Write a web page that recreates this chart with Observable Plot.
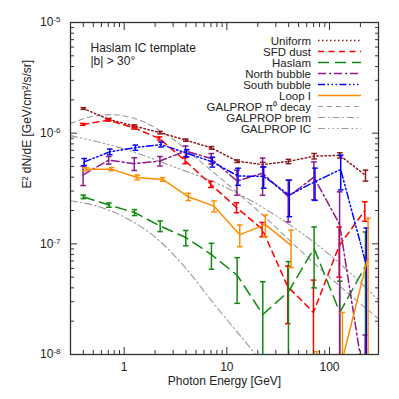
<!DOCTYPE html>
<html><head><meta charset="utf-8">
<script src="https://cdn.jsdelivr.net/npm/d3@7"></script>
<script src="https://cdn.jsdelivr.net/npm/@observablehq/plot@0.6"></script>
<style>body{margin:0;background:#fff}</style>
</head><body><div id="chart"></div>
<script>
// ---- data ----
const energy = [0.4, 0.71, 1.26, 2.24, 3.98, 7.08, 12.6, 22.4, 39.8, 70.8, 126, 224];

const uniformVal = [1.67e-6, 1.33e-6, 1.16e-6, 1.01e-6, 8.65e-7, 7.36e-7, 5.58e-7, 5.2e-7, 5.55e-7, 6.2e-7, 6.3e-7, 4.16e-7];
const uniformErr = [3e-8, 3e-8, 3e-8, 2.5e-8, 2e-8, 2e-8, 1.5e-8, 2.5e-8, 2.5e-8, 3.5e-8, 3.5e-8, 4.7e-8];

const sfdVal = [1.2e-6, 1.31e-6, 1.12e-6, 8.95e-7, 5.65e-7, 3.45e-7, 2.13e-7, 1.36e-7, 4.1e-8, 2.4e-8, 9.6e-8, 2.0e-7];
const sfdErr = [2.5e-8, 2.5e-8, 3e-8, 3e-8, 3.5e-8, 2.2e-8, 2.2e-8, 2e-8, 2.2e-8, 2.3e-8, 4.6e-8, 4e-8];

const haslamVal = [2.66e-7, 2.24e-7, 1.92e-7, 1.45e-7, 1.14e-7, 8.0e-8, 5.2e-8, 2.3e-8, 3.7e-8, 9.1e-8, 2.4e-8, 6.3e-8];
const haslamErr = [1e-8, 1e-8, 1.2e-8, 1.6e-8, 1.8e-8, 2.1e-8, 2.3e-8, 2.25e-8, 3.2e-8, 5.1e-8, 2.2e-8, 6.5e-8];

const northVal = [4.2e-7, 5.7e-7, 5.3e-7, 5.6e-7, 6.9e-7, 5.9e-7, 3.69e-7, 4.35e-7, 2.67e-7, 4.0e-7, 1.5e-7, 5e-9];
const northErr = [8.4e-8, 4.5e-8, 7e-8, 5.5e-8, 7.5e-8, 6.4e-8, 9.4e-8, 1.6e-7, 1.09e-7, 1.5e-7, 1.45e-7, 1e-8];

const southVal = [5.5e-7, 6.78e-7, 7.4e-7, 7.9e-7, 6.6e-7, 5.5e-7, 4.1e-7, 4.07e-7, 2.76e-7, 3.65e-7, 4.7e-7, 6.4e-8];
const southErr = [4e-8, 4e-8, 4e-8, 4e-8, 5e-8, 5.6e-8, 7.2e-8, 8.9e-8, 1e-7, 1.18e-7, 1.63e-7, 7.5e-8];

const loopVal = [4.73e-7, 4.73e-7, 3.98e-7, 3.82e-7, 2.66e-7, 2.19e-7, 1.21e-7, 1.49e-7, 9.7e-8, -5e-9, 9e-9, 7.6e-8];
const loopErr = [1.5e-8, 1.5e-8, 2e-8, 1.5e-8, 2e-8, 2.5e-8, 2.7e-8, 3.3e-8, 3.6e-8, 1.56e-8, 1.5e-8, 9.4e-8];

// GALPROP model curves
const pi0E = [0.3, 0.5, 0.75, 1, 1.5, 2, 3, 5, 10, 20, 50, 100, 300];
const pi0Val = [1.22e-6, 1.42e-6, 1.47e-6, 1.43e-6, 1.28e-6, 1.12e-6, 8.8e-7, 6.0e-7, 3.5e-7, 2.0e-7, 9e-8, 5e-8, 2.1e-8];
const bremE = [0.3, 0.5, 1, 2, 4, 7, 19, 40];
const bremVal = [2.45e-7, 2.24e-7, 1.75e-7, 1.15e-7, 6e-8, 3.1e-8, 1e-8, 4e-9];
const icE = [0.3, 1, 3, 10, 30, 100, 300];
const icVal = [9.5e-7, 7.2e-7, 5e-7, 3.2e-7, 1.8e-7, 8e-8, 3.1e-8];

const xMajor = [1, 10, 100];
const xMinor = [0.3,0.4,0.5,0.6,0.7,0.8,0.9,2,3,4,5,6,7,8,9,20,30,40,50,60,70,80,90,200,300];
const yMajor = [1e-8, 1e-7, 1e-6, 1e-5];
const yMinor = [];
for (const d of [1e-8, 1e-7, 1e-6]) for (let k = 2; k <= 9; k++) yMinor.push(k * d);

const seriesNames = ["Uniform", "SFD dust", "Haslam", "North bubble", "South bubble", "Loop I"];
const seriesVals = [uniformVal, sfdVal, haslamVal, northVal, southVal, loopVal];
const seriesErrs = [uniformErr, sfdErr, haslamErr, northErr, southErr, loopErr];
const seriesShift = [1, 0.985, 1, 0.995, 1.02, 1.06];

// ---- styles ----
const colors = ["#8b1a1a", "#ff0000", "#118811", "#8b1a8b", "#0000ff", "#ff8c00"];
const dashes = ["1.5,2.5", "6,4.5", "11,6", "8,3,2,3", "7,2.5,1.5,2.5,1.5,2.5,1.5,2.5", null];
const grayColor = "#999999";
const grayDash = {pi0: "5,4", brem: "7,3,1.5,3", ic: "7,3,1.5,3,1.5,3,1.5,3"};

const cap = {draw(ctx, size) { const w = Math.sqrt(size / Math.PI); ctx.moveTo(-w, 0); ctx.lineTo(w, 0); }};

const marks = [];
const mk = (E, V) => E.map((e, i) => ({E: e, v: V[i]}));
marks.push(Plot.line(mk(pi0E, pi0Val), {x: "E", y: "v", stroke: grayColor, strokeWidth: 1.1, strokeDasharray: grayDash.pi0, curve: "monotone-x", clip: true}));
marks.push(Plot.line(mk(bremE, bremVal), {x: "E", y: "v", stroke: grayColor, strokeWidth: 1.1, strokeDasharray: grayDash.brem, curve: "monotone-x", clip: true}));
marks.push(Plot.line(mk(icE, icVal), {x: "E", y: "v", stroke: grayColor, strokeWidth: 1.1, strokeDasharray: grayDash.ic, curve: "monotone-x", clip: true}));

seriesNames.forEach((name, s) => {
  const rows = energy.map((e, i) => {
    const v = seriesVals[s][i], err = seriesErrs[s][i];
    return {E: e * seriesShift[s], v: v > 0 ? v : NaN, hi: v + err, lo: v - err > 0 ? v - err : 1e-12};
  });
  const c = colors[s];
  marks.push(Plot.line(rows, {x: "E", y: "v", stroke: c, strokeWidth: 1.5, strokeDasharray: dashes[s], clip: true}));
  marks.push(Plot.ruleX(rows, {x: "E", y1: "lo", y2: "hi", stroke: c, strokeWidth: 1.5, clip: true}));
  marks.push(Plot.dot(rows, {x: "E", y: "hi", symbol: cap, r: 2.8, stroke: c, fill: "none", strokeWidth: 1.5, clip: true}));
  marks.push(Plot.dot(rows, {x: "E", y: "lo", symbol: cap, r: 2.8, stroke: c, fill: "none", strokeWidth: 1.5, clip: true}));
});

const axisColor = "#333";
marks.push(Plot.frame({stroke: axisColor, strokeWidth: 1.3}));
// inward ticks on all four sides
const blank = () => "";
marks.push(Plot.axisX(xMajor, {anchor: "bottom", tickSize: 7, dy: -7, tickFormat: blank, label: null, stroke: axisColor}));
marks.push(Plot.axisX(xMinor, {anchor: "bottom", tickSize: 4, dy: -4, tickFormat: blank, label: null, stroke: axisColor}));
marks.push(Plot.axisX(xMajor, {anchor: "top", tickSize: 7, dy: 7, tickFormat: blank, label: null, stroke: axisColor}));
marks.push(Plot.axisX(xMinor, {anchor: "top", tickSize: 4, dy: 4, tickFormat: blank, label: null, stroke: axisColor}));
marks.push(Plot.axisY(yMajor, {anchor: "left", tickSize: 7, dx: 7, tickFormat: blank, label: null, stroke: axisColor}));
marks.push(Plot.axisY(yMinor, {anchor: "left", tickSize: 4, dx: 4, tickFormat: blank, label: null, stroke: axisColor}));
marks.push(Plot.axisY(yMajor, {anchor: "right", tickSize: 7, dx: -7, tickFormat: blank, label: null, stroke: axisColor}));
marks.push(Plot.axisY(yMinor, {anchor: "right", tickSize: 4, dx: -4, tickFormat: blank, label: null, stroke: axisColor}));
// tick labels
marks.push(Plot.axisX(xMajor, {anchor: "bottom", tickSize: 0, tickPadding: 8, tickFormat: d => String(d), label: null, fontSize: 12, fill: "#222"}));
marks.push(Plot.axisY(yMajor, {anchor: "left", tickSize: 0, tickPadding: 10, tickFormat: d => "10^" + Math.round(Math.log10(d)), label: null, fontSize: 12, fill: "#222"}));
// titles
marks.push(Plot.text(["Photon Energy [GeV]"], {frameAnchor: "bottom", dy: 30, fontSize: 12, fill: "#222"}));
marks.push(Plot.text(["E² dN/dE [GeV/cm²/s/sr]"], {frameAnchor: "left", dx: -43, rotate: -90, fontSize: 12, fill: "#222"}));
marks.push(Plot.text(["Haslam IC template"], {frameAnchor: "top-left", dx: 20, dy: 21, textAnchor: "start", fontSize: 12, fill: "#222"}));
marks.push(Plot.text(["|b| > 30°"], {frameAnchor: "top-left", dx: 20, dy: 34, textAnchor: "start", fontSize: 12, fill: "#222"}));

const chart = Plot.plot({
  width: 399, height: 399,
  marginLeft: 70, marginRight: 21, marginTop: 22, marginBottom: 45,
  x: {type: "log", domain: [0.3, 300], label: null},
  y: {type: "log", domain: [1e-8, 1e-5], label: null},
  style: {fontFamily: "'Liberation Sans', Arial, Helvetica, sans-serif", fontSize: "12px", background: "white", overflow: "visible"},
  marks
});
document.getElementById("chart").appendChild(chart);

// superscript exponents on the y tick labels
const svg = d3.select(chart);
svg.selectAll('g[aria-label="y-axis tick label"] text').each(function () {
  const t = this.textContent;
  if (!t.includes("^")) return;
  const [b, e] = t.split("^");
  this.textContent = b;
  d3.select(this).append("tspan").attr("dy", "-0.5em").attr("font-size", "8px").text(e);
});

// legend (top right, inside the frame)
const legendLabels = ["Uniform", "SFD dust", "Haslam", "North bubble", "South bubble", "Loop I", "GALPROP π⁰ decay", "GALPROP brem", "GALPROP IC"];
const legendColors = [...colors, grayColor, grayColor, grayColor];
const legendDash = [...dashes, grayDash.pi0, grayDash.brem, grayDash.ic];
const lg = svg.append("g").attr("font-family", "'Liberation Sans', Arial, sans-serif").attr("font-size", "11.5px");
legendLabels.forEach((lab, i) => {
  const y = 40.5 + i * 11;
  lg.append("text").attr("x", 311).attr("y", y).attr("dy", "0.35em").attr("text-anchor", "end").attr("fill", "#222").text(lab);
  lg.append("line").attr("x1", 318).attr("x2", 361).attr("y1", y).attr("y2", y)
    .attr("stroke", legendColors[i]).attr("stroke-width", i < 6 ? 1.5 : 1.1)
    .attr("stroke-dasharray", legendDash[i]);
});
</script>
</body></html>
